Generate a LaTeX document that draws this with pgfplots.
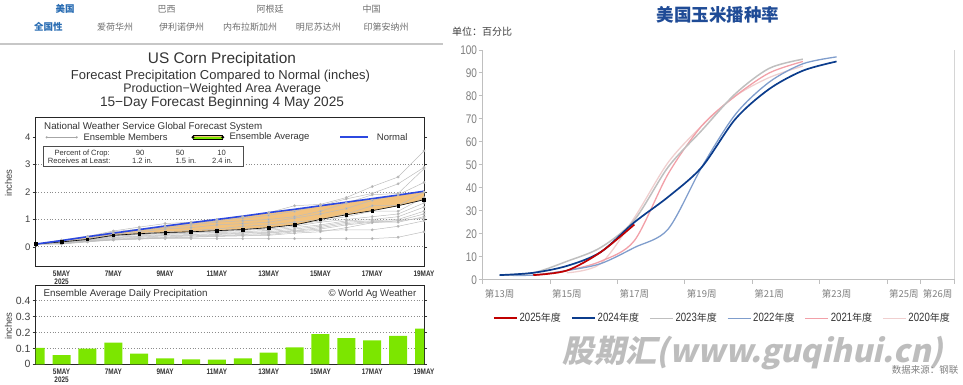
\documentclass[border=0pt]{standalone}
\usepackage{fontspec}
\usepackage{graphicx}
\usepackage{pgfplots}
\pgfplotsset{compat=1.18}
\usepackage{pgfplotstable}
\setmainfont{Liberation Sans}
\newfontfamily\cjk{Noto Sans CJK SC}
\newfontfamily\narrow[FakeStretch=0.8]{Liberation Sans}
\newfontfamily\wmfont[FakeSlant=0.22]{Noto Sans CJK SC}
\newcommand{\fs}[1]{\fontsize{#1}{#1}\selectfont}
\newcommand{\fitw}[2]{\resizebox{#1pt}{!}{#2}}

\definecolor{navBlue}{HTML}{2A6DB3}
\definecolor{navGray}{HTML}{6E6E6E}
\definecolor{txtDark}{HTML}{333333}
\definecolor{memGray}{HTML}{BDBDBD}
\definecolor{memDot}{HTML}{A6A6A6}
\definecolor{normBlue}{HTML}{2C48E0}
\definecolor{fillOrange}{HTML}{F2C27E}
\definecolor{barGreen}{HTML}{7CE600}
\definecolor{titleBlue}{HTML}{1F4B96}
\definecolor{axisGray}{HTML}{BFBFBF}
\definecolor{tickGray}{HTML}{808080}
\definecolor{c2025}{HTML}{C00000}
\definecolor{c2024}{HTML}{0B3C8C}
\definecolor{c2023}{HTML}{BFBFBF}
\definecolor{c2022}{HTML}{7F9DCC}
\definecolor{c2021}{HTML}{F2A0A8}
\definecolor{c2020}{HTML}{F0CFCF}
\definecolor{wmGray}{HTML}{BDBDBD}

\pgfplotstableread{
day norm avg m1 m2 m3 m4 m5 m6 m7 m8 m9 m10 m11 m12 m13 m14
4 0.10 0.10 0.10 0.10 0.10 0.10 0.10 0.10 0.10 0.10 0.10 0.10 0.10 0.10 0.10 0.10
5 0.23 0.18 0.12 0.25 0.22 0.20 0.18 0.17 0.16 0.15 0.15 0.14 0.13 0.12 0.11 0.10
6 0.37 0.27 0.20 0.38 0.35 0.30 0.28 0.27 0.25 0.25 0.24 0.22 0.21 0.20 0.19 0.18
7 0.50 0.42 0.25 0.58 0.55 0.50 0.45 0.42 0.40 0.38 0.35 0.33 0.30 0.28 0.27 0.25
8 0.63 0.48 0.30 0.72 0.65 0.60 0.55 0.50 0.45 0.45 0.40 0.38 0.35 0.32 0.30 0.28
9 0.76 0.52 0.30 0.85 0.75 0.70 0.65 0.55 0.50 0.48 0.45 0.42 0.40 0.36 0.34 0.32
10 0.88 0.55 0.30 0.90 0.85 0.80 0.70 0.60 0.55 0.52 0.50 0.45 0.42 0.40 0.36 0.35
11 1.00 0.59 0.30 1.00 0.95 0.90 0.80 0.65 0.60 0.55 0.52 0.48 0.45 0.42 0.40 0.38
12 1.12 0.63 0.30 1.10 1.05 0.95 0.85 0.75 0.65 0.60 0.55 0.52 0.50 0.45 0.42 0.40
13 1.25 0.70 0.30 1.25 1.15 1.00 0.90 0.80 0.70 0.65 0.60 0.55 0.52 0.50 0.45 0.42
14 1.37 0.80 0.30 1.50 1.30 1.10 1.05 0.90 0.80 0.75 0.70 0.65 0.60 0.58 0.55 0.50
15 1.50 1.00 0.30 1.55 1.50 1.30 1.20 1.00 0.95 0.90 0.80 0.75 0.70 0.65 0.60 0.55
16 1.63 1.17 0.30 1.80 1.75 1.60 1.40 1.20 1.10 1.00 0.95 0.90 0.85 0.80 0.62 0.70
17 1.76 1.32 0.30 2.20 1.95 1.90 1.70 1.50 1.30 1.10 1.00 0.95 0.92 0.90 0.62 0.88
18 1.89 1.50 0.35 2.55 2.30 1.95 1.90 1.50 1.30 1.20 1.10 1.00 0.95 0.90 0.75 0.95
19 2.03 1.72 0.55 3.50 2.90 2.85 2.35 2.00 1.80 1.60 1.45 1.30 1.20 1.10 0.95 1.05
}\ens

\begin{document}
\begin{tikzpicture}

% ---------------- left header ----------------
\begin{scope}[every node/.style={inner sep=0pt, font=\cjk\fs{9}, text=navGray}]
\node[text=navBlue, font=\cjk\bfseries\fs{9.5}] at (65pt,375pt) {美国};
\node at (166.7pt,375pt) {巴西};
\node at (270pt,375pt) {阿根廷};
\node at (371.7pt,375pt) {中国};
\node[text=navBlue, font=\cjk\bfseries\fs{9.5}] at (48.3pt,357.3pt) {全国性};
\node at (115pt,357.3pt) {爱荷华州};
\node at (181.7pt,357.3pt) {伊利诺伊州};
\node at (250pt,357.3pt) {内布拉斯加州};
\node at (318.3pt,357.3pt) {明尼苏达州};
\node at (386pt,357.3pt) {印第安纳州};
\end{scope}
\draw[black!22, line width=1.3pt] (0pt,340pt) -- (443pt,340pt);

\begin{scope}[every node/.style={inner sep=0pt, text=txtDark}]
\node at (221.9pt,324pt) {\fitw{148}{\fs{12}US Corn Precipitation}};
\node at (220.5pt,308.3pt) {\fitw{299}{\fs{10}Forecast Precipitation Compared to Normal (inches)}};
\node at (222.2pt,294.7pt) {\fitw{197.7}{\fs{10}Production\textminus Weighted Area Average}};
\node at (222pt,281.3pt) {\fitw{244}{\fs{10}15\textminus Day Forecast Beginning 4 May 2025}};
\end{scope}

% ---------------- left top axis ----------------
\begin{axis}[
  at={(35.7pt,118pt)}, anchor=south west, scale only axis,
  width=388.3pt, height=149pt,
  xmin=4, xmax=19, ymin=-0.7, ymax=4.74,
  xtick={5,7,9,11,13,15,17,19},
  xticklabels={{5MAY\\2025},7MAY,9MAY,11MAY,13MAY,15MAY,17MAY,19MAY},
  xticklabel style={font=\narrow\bfseries\fs{8}, align=center, text=txtDark, inner sep=1pt, yshift=-1pt},
  ytick={0,1,2,3,4},
  yticklabel style={font=\fs{9.5}, text=black!75, inner sep=2pt},
  /pgf/number format/assume math mode=true,
  tick align=outside, major tick length=3pt,
  tick style={black!80, line width=0.6pt},
  xtick style={draw=none},
  axis line style={black!85, line width=0.9pt},
]
\pgfplotsinvokeforeach{0,1,2,3}{\draw[dotted, black!45, line width=0.8pt] (axis cs:4,#1) -- (axis cs:19,#1);}
\addplot[fill=fillOrange, draw=none, forget plot] coordinates {
(4,0.10) (5,0.23) (6,0.37) (7,0.50) (8,0.63) (9,0.76) (10,0.88) (11,1.00) (12,1.12) (13,1.25)
(14,1.37) (15,1.50) (16,1.63) (17,1.76) (18,1.89) (19,2.03)
(19,1.72) (18,1.50) (17,1.32) (16,1.17) (15,1.00) (14,0.80) (13,0.70) (12,0.63) (11,0.59)
(10,0.55) (9,0.52) (8,0.48) (7,0.42) (6,0.27) (5,0.18) (4,0.10)} -- cycle;
\pgfplotsinvokeforeach{1,...,14}{
  \addplot[memGray, line width=0.5pt, mark=*, mark size=1.15pt, mark options={fill=memDot, draw=none}, forget plot] table[x=day,y=m#1]{\ens};
}
\addplot[black, line width=0.6pt, mark=square*, mark size=1.3pt, forget plot] table[x=day,y=avg]{\ens};
\addplot[normBlue, line width=1.6pt, forget plot] table[x=day,y=norm]{\ens};
\end{axis}

% legend of top-left chart
\node[anchor=west, inner sep=0pt, text=txtDark] at (44pt,257.3pt) {\fitw{218}{\fs{8}National Weather Service Global Forecast System}};
\draw[draw=memDot, line width=0.6pt] (46.7pt,246.7pt) -- (76.7pt,246.7pt);
\fill[fill=memDot] (46.7pt,246.7pt) circle (1.2pt) (76.7pt,246.7pt) circle (1.2pt);
\node[anchor=west, inner sep=0pt, text=txtDark] at (83.3pt,246.7pt) {\fitw{84}{\fs{8}Ensemble Members}};
\fill[fill=barGreen] (193pt,244.3pt) rectangle (222.7pt,246.7pt);
\fill[fill=fillOrange] (193pt,246.7pt) rectangle (222.7pt,249.1pt);
\draw[draw=black, line width=0.5pt] (193pt,249.1pt) -- (222.7pt,249.1pt) (193pt,244.3pt) -- (222.7pt,244.3pt);
\fill[fill=black] (193pt,246.7pt) circle (1.6pt) (222.7pt,246.7pt) circle (1.6pt);
\node[anchor=west, inner sep=0pt, text=txtDark] at (229.3pt,246.7pt) {\fitw{80}{\fs{8}Ensemble Average}};
\draw[draw=normBlue, line width=1.8pt] (340pt,246.7pt) -- (368.3pt,246.7pt);
\node[anchor=west, inner sep=0pt, text=txtDark] at (376.7pt,246.7pt) {\fitw{30.6}{\fs{8}Normal}};
\draw[draw=black!70, fill=white, line width=0.6pt] (43.3pt,218pt) rectangle (243.3pt,237.3pt);
\begin{scope}[every node/.style={inner sep=0pt, text=txtDark, font=\fs{7.6}}]
\node[anchor=west] at (54.3pt,230.7pt) {Percent of Crop:};
\node at (140pt,230.7pt) {90};
\node at (180pt,230.7pt) {50};
\node at (221.7pt,230.7pt) {10};
\node[anchor=west] at (47.7pt,223.3pt) {Receives at Least:};
\node at (142.5pt,223.3pt) {1.2 in.};
\node at (186pt,223.3pt) {1.5 in.};
\node at (222.5pt,223.3pt) {2.4 in.};
\end{scope}
\node[rotate=90, inner sep=0pt, font=\fs{9.5}, text=black!75] at (8.5pt,201pt) {inches};

% ---------------- left bottom axis ----------------
\begin{axis}[
  at={(35.7pt,19.7pt)}, anchor=south west, scale only axis,
  width=388.3pt, height=78.6pt,
  xmin=4, xmax=19, ymin=0, ymax=0.494,
  xtick={5,7,9,11,13,15,17,19},
  xticklabels={{5MAY\\2025},7MAY,9MAY,11MAY,13MAY,15MAY,17MAY,19MAY},
  xticklabel style={font=\narrow\bfseries\fs{8}, align=center, text=txtDark, inner sep=1pt},
  ytick={0,0.1,0.2,0.3,0.4},
  yticklabels={0,0.1,0.2,0.3,0.4},
  yticklabel style={font=\fs{10.5}, text=black!75, inner sep=2pt},
  tick align=outside, major tick length=3pt,
  tick style={black!80, line width=0.6pt},
  xtick style={draw=none},
  axis line style={black!85, line width=0.9pt},
]
\pgfplotsinvokeforeach{0.1,0.2,0.3,0.4}{\draw[dotted, black!45, line width=0.8pt] (axis cs:4,#1) -- (axis cs:19,#1);}
\addplot[ybar, bar width=18pt, fill=barGreen, draw=none] coordinates {
(4,0.104) (5,0.058) (6,0.098) (7,0.136) (8,0.067) (9,0.038) (10,0.031) (11,0.029)
(12,0.038) (13,0.073) (14,0.107) (15,0.189) (16,0.165) (17,0.151) (18,0.178) (19,0.224)};
\end{axis}
\node[anchor=west, inner sep=0pt, text=txtDark] at (43.3pt,90pt) {\fitw{164}{\fs{8}Ensemble Average Daily Precipitation}};
\node[anchor=west, inner sep=0pt, text=txtDark] at (328.3pt,90pt) {\fitw{87.7}{\fs{8}\textcopyright\ World Ag Weather}};
\node[rotate=90, inner sep=0pt, font=\fs{9.5}, text=black!75] at (8.5pt,58pt) {inches};

% ---------------- right chart ----------------
\node[inner sep=0pt, text=titleBlue, font=\cjk\bfseries\fs{17.5}] at (718pt,369pt) {美国玉米播种率};
\node[anchor=west, inner sep=0pt, text=black!75, font=\cjk\fs{10}] at (452pt,352.3pt) {单位：百分比};

\begin{axis}[
  at={(482.7pt,104.3pt)}, anchor=south west, scale only axis,
  width=471.8pt, height=229.7pt,
  xmin=12.5, xmax=26.5, ymin=0, ymax=100,
  axis x line=bottom, axis y line=left,
  axis line style={-, axisGray, line width=1.1pt},
  ytick={0,10,...,100},
  yticklabel style={font=\narrow\fs{12.5}, text=tickGray, inner sep=1.5pt},
  /pgf/number format/assume math mode=true,
  xtick={12.5,14.5,16.5,18.5,20.5,22.5,24.5,25.5,26.5},
  xticklabels={},
  extra x ticks={13,15,17,19,21,23,25,26},
  extra x tick labels={第13周,第15周,第17周,第19周,第21周,第23周,第25周,第26周},
  extra x tick style={major tick length=0pt, xticklabel style={font=\cjk\fs{9.5}, text=tickGray, inner sep=2pt, yshift=-8pt}},
  tick align=outside, major tick length=4pt,
  tick style={axisGray, line width=1pt},
  legend style={at={(0.508,-0.168)}, anchor=center, legend columns=6, draw=none, fill=none,
    font=\cjk\fs{10}, text=black!80, inner sep=0pt,
    /tikz/every even column/.append style={column sep=8pt}},
  legend image code/.code={\draw[#1] (0pt,0pt) -- (23pt,0pt);},
  reverse legend,
]
\draw[axisGray, line width=1.1pt] (rel axis cs:1,0) -- (rel axis cs:1,1);
\addplot[c2020, line width=1.3pt, smooth] coordinates {(15,3) (16,7) (17,27) (18,51) (19,67) (20,80) (21,88) (22,93)};
\addlegendentry{{\narrow\fs{12}2020}年度}
\addplot[c2021, line width=1.3pt, smooth] coordinates {(14,2) (15,4) (16,8) (17,17) (18,46) (19,67) (20,80) (21,90) (22,95)};
\addlegendentry{{\narrow\fs{12}2021}年度}
\addplot[c2022, line width=1.3pt, smooth] coordinates {(13,2) (14,2) (15,4) (16,7) (17,14) (18,22) (19,49) (20,72) (21,86) (22,94) (23,97)};
\addlegendentry{{\narrow\fs{12}2022}年度}
\addplot[c2023, line width=1.5pt, smooth] coordinates {(13,2) (14,3) (15,8) (16,14) (17,26) (18,49) (19,65) (20,81) (21,92) (22,96)};
\addlegendentry{{\narrow\fs{12}2023}年度}
\addplot[c2024, line width=1.7pt, smooth] coordinates {(13,2) (14,3) (15,6) (16,12) (17,25) (18,36) (19,49) (20,70) (21,83) (22,91) (23,95)};
\addlegendentry{{\narrow\fs{12}2024}年度}
\addplot[c2025, line width=1.7pt, smooth] coordinates {(14,2) (15,4) (16,12) (17,24)};
\addlegendentry{{\narrow\fs{12}2025}年度}
\end{axis}

\node[inner sep=0pt, text=wmGray] at (753pt,31pt) {\fitw{380}{\wmfont\bfseries 股期汇(www.guqihui.cn)}};
\node[anchor=west, inner sep=0pt, text=black!50, font=\cjk\fs{9.5}] at (891.7pt,14pt) {数据来源：钢联};

\pgfresetboundingbox
\path[use as bounding box] (0pt,0pt) rectangle (963pt,384pt);
\end{tikzpicture}
\end{document}
